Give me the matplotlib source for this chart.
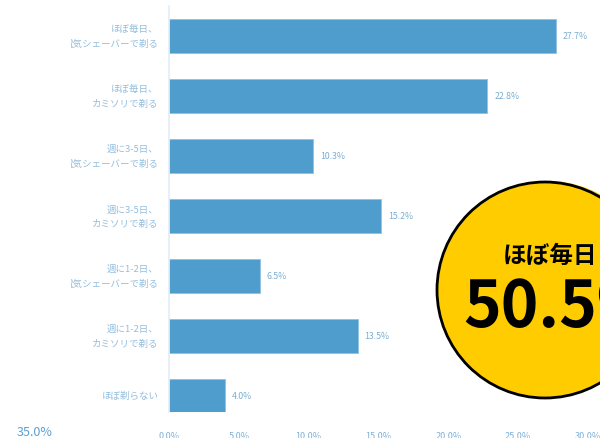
import matplotlib.pyplot as plt
from matplotlib.patches import Circle
from matplotlib.transforms import Bbox, TransformedBbox

plt.rcParams['font.family'] = ['Noto Sans CJK JP', 'DejaVu Sans']

# Data
categories = ['ほぼ毎日、\n電気シェーバーで剃る', 'ほぼ毎日、\nカミソリで剃る',
              '週に3-5日、\n電気シェーバーで剃る', '週に3-5日、\nカミソリで剃る',
              '週に1-2日、\n電気シェーバーで剃る', '週に1-2日、\nカミソリで剃る',
              'ほぼ剃らない']
values = [27.7, 22.8, 10.3, 15.2, 6.5, 13.5, 4.0]
xticks = [0, 5, 10, 15, 20, 25, 30]

W, H = 600, 439
fig = plt.figure(figsize=(6, 4.39), dpi=100)

# Bar chart axes, placed in pixel units
left, right, top, bottom = 169, 588, 7, 413
ax = fig.add_axes([left / W, 1 - bottom / H, (right - left) / W, (bottom - top) / H])
ypos = list(range(len(categories)))
ax.barh(ypos, values, height=0.57, color='#4f9dcc', edgecolor='#8fc2e2', linewidth=0.6)
ax.set_xlim(0, 30)
ax.set_ylim(6.27, -0.5)

for s in ['top', 'right', 'bottom']:
    ax.spines[s].set_visible(False)
ax.spines['left'].set_color('#e3eef6')
ax.spines['left'].set_linewidth(1.2)

ax.set_yticks([])
ax.set_xticks(xticks)
ax.set_xticklabels([f'{t:.1f}%' for t in xticks], fontsize=6.5, color='#7fb0d6')
ax.tick_params(axis='x', length=0, pad=14)

# value labels
for y, v in zip(ypos, values):
    ax.text(v + 0.5, y, f'{v:.1f}%', va='center', ha='left', fontsize=6.3, color='#7aaed3')

# category labels, clipped on the left like the original
clip = TransformedBbox(Bbox([[71 / W, 0], [1, 1]]), fig.transFigure)
for y, c in zip(ypos, categories):
    t = ax.text(-0.75, y, c, va='center', ha='right', fontsize=6.8, color='#93bedd',
                linespacing=1.7, clip_on=True)
    t.set_clip_box(clip)

# stray axis label
fig.text(35 / W, 1 - 433 / H, '35.0%', fontsize=9, color='#5a9fd4', ha='center', va='center')

# Overlay badge
ov = fig.add_axes([0, 0, 1, 1])
ov.set_xlim(0, W)
ov.set_ylim(H, 0)
ov.axis('off')
ov.add_patch(Circle((548, 290), 108, facecolor='#ffcc00', edgecolor='none'))
ov.add_patch(Circle((545, 291), 108, facecolor='#ffcc00', edgecolor='black', linewidth=2))
ov.text(503, 256, 'ほぼ毎日', fontsize=17, fontweight='bold', ha='left', va='center', color='black')
ov.text(463, 308, '50.5%', fontsize=46, fontweight='bold', ha='left', va='center', color='black')

fig.savefig('out.png', dpi=100)
